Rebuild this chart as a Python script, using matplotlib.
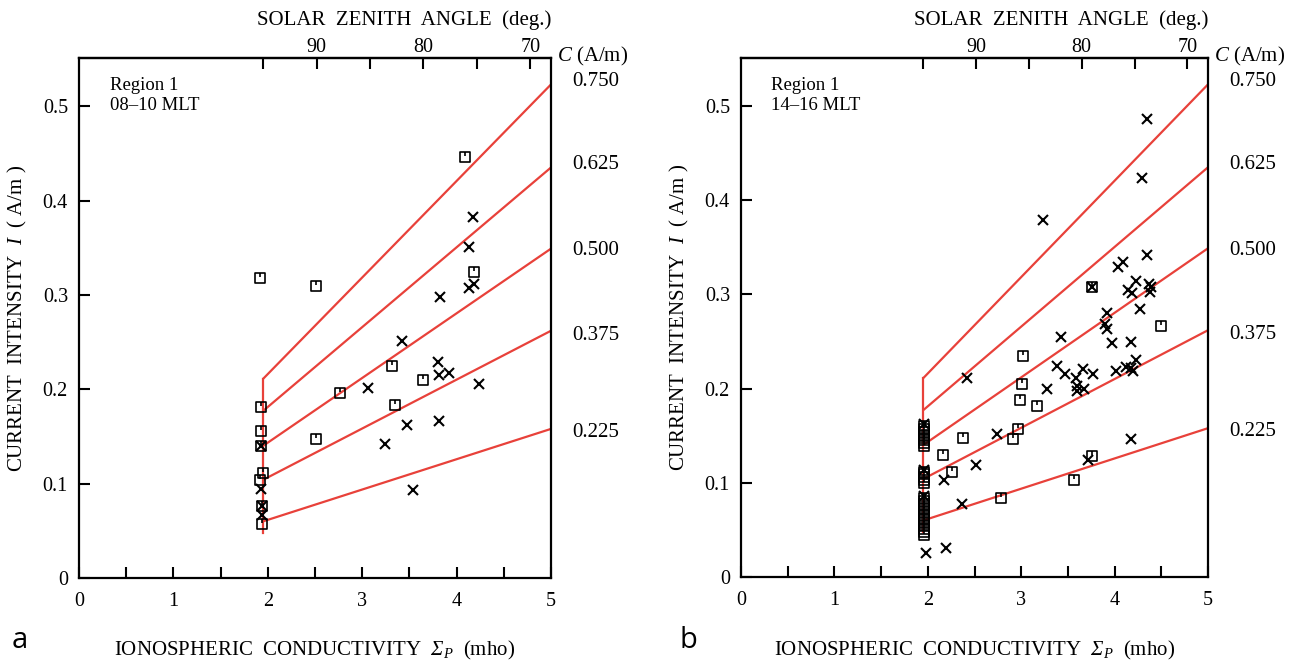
import matplotlib
matplotlib.use("Agg")
import matplotlib.pyplot as plt
import numpy as np
from matplotlib.path import Path
from matplotlib.transforms import blended_transform_factory

plt.rcParams['font.family'] = ['Liberation Serif', 'DejaVu Serif']
plt.rcParams['mathtext.fontset'] = 'custom'
plt.rcParams['mathtext.rm'] = 'Liberation Serif'
plt.rcParams['mathtext.it'] = 'Liberation Serif:italic'
plt.rcParams['mathtext.bf'] = 'Liberation Serif:bold'
plt.rcParams['mathtext.cal'] = 'Liberation Serif:italic'

# ---------------- data ----------------
C_levels = [0.750, 0.625, 0.500, 0.375, 0.225]
C_labels = ["0.750", "0.625", "0.500", "0.375", "0.225"]
C_label_I = [0.526, 0.438, 0.347, 0.257, 0.154]
line_sigma = [1.95, 5.0]
line_I_start = [0.211, 0.177, 0.140, 0.104, 0.060]
line_I_end = [0.523, 0.435, 0.349, 0.262, 0.158]
vert_sigma = 1.95
vert_I = [0.048, 0.211]

zenith_ticks = [95, 90, 85, 80, 75, 70]
zenith_labels = ["", "90", "", "80", "", "70"]
zen_sigma_ref = [1.95, 4.78]   # sigma at zenith 95 and 70
zen_ref = [95, 70]

# panel a (08-10 MLT)
a_sq_x = [1.92, 2.51, 4.09, 4.18, 2.77, 2.51, 3.32, 3.35, 3.64,
          1.93, 1.93, 1.93, 1.95, 1.92, 1.94, 1.94]
a_sq_y = [0.318, 0.309, 0.446, 0.324, 0.196, 0.147, 0.225, 0.183, 0.210,
          0.181, 0.156, 0.140, 0.111, 0.104, 0.076, 0.057]
a_x_x = [4.17, 4.13, 4.13, 4.18, 3.82, 3.42, 3.80, 3.06, 3.81, 3.92, 4.24,
         3.47, 3.81, 3.24, 3.54, 1.93, 1.93, 1.94, 1.94]
a_x_y = [0.382, 0.351, 0.307, 0.311, 0.298, 0.251, 0.229, 0.201, 0.215, 0.217,
         0.206, 0.162, 0.166, 0.142, 0.093, 0.140, 0.094, 0.076, 0.067]

# panel b (14-16 MLT)
b_sq_x = [3.76, 4.50, 3.02, 3.01, 2.99, 3.17, 2.97, 2.91, 3.76, 2.38, 2.16,
          2.26, 3.57, 2.78,
          1.96, 1.96, 1.96, 1.96, 1.96, 1.96, 1.96, 1.96,
          1.96, 1.96, 1.96, 1.96, 1.96,
          1.96, 1.96, 1.96, 1.96, 1.96, 1.96, 1.96, 1.96, 1.96, 1.96, 1.96,
          1.96, 1.96, 1.96]
b_sq_y = [0.308, 0.266, 0.235, 0.205, 0.188, 0.182, 0.157, 0.147, 0.128, 0.148,
          0.130, 0.112, 0.103, 0.084,
          0.160, 0.157, 0.154, 0.151, 0.148, 0.145, 0.142, 0.139,
          0.112, 0.109, 0.106, 0.103, 0.100,
          0.084, 0.081, 0.078, 0.075, 0.072, 0.069, 0.066, 0.063, 0.060, 0.057,
          0.054, 0.051, 0.048, 0.045]
b_x_x = [4.35, 4.29, 3.23, 4.35, 4.09, 4.04, 3.76, 4.23, 4.14, 4.19, 4.37, 4.39,
         4.38, 4.27, 3.92, 3.90, 3.92, 3.43, 3.97, 4.18, 3.38, 3.47, 3.66, 3.77,
         3.59, 3.60, 3.60, 3.67, 3.28, 4.01, 4.12, 4.18, 4.23, 4.20, 4.18, 3.71,
         2.42, 2.17, 2.52, 2.74, 2.37, 1.98, 2.19,
         1.96, 1.96, 1.96]
b_x_y = [0.486, 0.424, 0.379, 0.342, 0.334, 0.329, 0.308, 0.314, 0.305, 0.301,
         0.311, 0.308, 0.303, 0.285, 0.280, 0.269, 0.263, 0.255, 0.248, 0.249,
         0.224, 0.215, 0.221, 0.216, 0.211, 0.203, 0.197, 0.200, 0.200, 0.219,
         0.223, 0.222, 0.230, 0.219, 0.146, 0.124,
         0.211, 0.103, 0.119, 0.152, 0.077, 0.026, 0.031,
         0.162, 0.114, 0.086]

# ---------------- styling ----------------
RED = '#e8413a'
sq_marker = Path([(-1, -1), (1, -1), (1, 1), (-1, 1), (-1, -1), (0, 1), (0, 0.25)],
                 [Path.MOVETO, Path.LINETO, Path.LINETO, Path.LINETO, Path.CLOSEPOLY,
                  Path.MOVETO, Path.LINETO])

def sig2zen(s):
    s = np.asarray(s, dtype=float)
    slope = (zen_ref[1] - zen_ref[0]) / (zen_sigma_ref[1] - zen_sigma_ref[0])
    return zen_ref[0] + (s - zen_sigma_ref[0]) * slope

def zen2sig(z):
    z = np.asarray(z, dtype=float)
    slope = (zen_sigma_ref[1] - zen_sigma_ref[0]) / (zen_ref[1] - zen_ref[0])
    return zen_sigma_ref[0] + (z - zen_ref[0]) * slope

fig = plt.figure(figsize=(13.06, 6.66), dpi=100)
W, H = 1306, 666

def make_axes(l, r, t, b):
    return fig.add_axes([l / W, 1 - b / H, (r - l) / W, (b - t) / H])

axA = make_axes(79, 551, 58, 578)
axB = make_axes(741, 1208, 58, 577)

panels = [
    (axA, a_sq_x, a_sq_y, a_x_x, a_x_y, "08\u201310 MLT"),
    (axB, b_sq_x, b_sq_y, b_x_x, b_x_y, "14\u201316 MLT"),
]

for ax, sqx, sqy, xx, xy, mlt in panels:
    ax.set_xlim(0, 5)
    ax.set_ylim(0, 0.551)
    for sp in ax.spines.values():
        sp.set_linewidth(1.6)

    # model lines
    for i in range(len(C_levels)):
        ax.plot(line_sigma, [line_I_start[i], line_I_end[i]], color=RED, lw=1.6,
                zorder=2, clip_on=False, solid_capstyle='butt')
    ax.plot([vert_sigma, vert_sigma], vert_I, color=RED, lw=1.6, zorder=2)

    ax.plot(sqx, sqy, linestyle='none', marker=sq_marker, ms=7, mfc='none',
            mec='black', mew=1.2, zorder=3)
    ax.plot(xx, xy, linestyle='none', marker='x', ms=7.5, mec='black',
            mew=1.5, zorder=3)

    ax.set_xticks(np.arange(0, 5.01, 0.5))
    ax.set_xticklabels(["0", "", "1", "", "2", "", "3", "", "4", "", "5"])
    ax.set_yticks([0, 0.1, 0.2, 0.3, 0.4, 0.5])
    ax.set_yticklabels(["0", "0.1", "0.2", "0.3", "0.4", "0.5"])
    ax.tick_params(axis='both', direction='in', length=8, width=1.5,
                   labelsize=14.5, pad=8)
    ax.tick_params(axis='x', pad=10)
    ax.tick_params(axis='y', left=True, right=False)

    sec = ax.secondary_xaxis('top', functions=(sig2zen, zen2sig))
    sec.set_xticks(zenith_ticks)
    sec.set_xticklabels(zenith_labels)
    sec.tick_params(direction='in', length=8, width=1.5, labelsize=14.5, pad=0.5)
    sec.spines['top'].set_linewidth(1.6)

    # top title
    tr = blended_transform_factory(ax.transAxes, fig.transFigure)
    ax.text(1.0, 1 - 20 / H, "SOLAR  ZENITH  ANGLE  (deg.)", transform=tr,
            ha='right', va='center', fontsize=15)

    # C labels on right
    ax.text(1.012, 1.003, "$C$ (A/m)", transform=ax.transAxes, ha='left',
            va='center', fontsize=15)
    trl = blended_transform_factory(ax.transAxes, ax.transData)
    for i in range(len(C_levels)):
        ax.text(1.045, C_label_I[i], C_labels[i], transform=trl,
                ha='left', va='center', fontsize=15)

    ax.text(0.065, 0.963, "Region 1\n" + mlt, transform=ax.transAxes,
            ha='left', va='top', fontsize=13.5, linespacing=1.25)

    ax.set_ylabel("CURRENT  INTENSITY  $I$  ( A/m )", fontsize=15, labelpad=10)

    ax.set_xlabel("IONOSPHERIC  CONDUCTIVITY  $\\mathcal{\u03a3}_\\mathcal{P}$  (mho)",
                  fontsize=15)
    ax.xaxis.set_label_coords(0.5, 1 - 650 / H,
                              transform=blended_transform_factory(ax.transAxes, fig.transFigure))
    ax.xaxis.label.set_va('center')

fig.text(12 / W, 1 - 641 / H, "a", ha='left', va='center', fontsize=21,
         family=['Open Sans', 'DejaVu Sans'])
fig.text(679 / W, 1 - 641 / H, "b", ha='left', va='center', fontsize=21,
         family=['Open Sans', 'DejaVu Sans'])

fig.savefig("out.png", dpi=100)
